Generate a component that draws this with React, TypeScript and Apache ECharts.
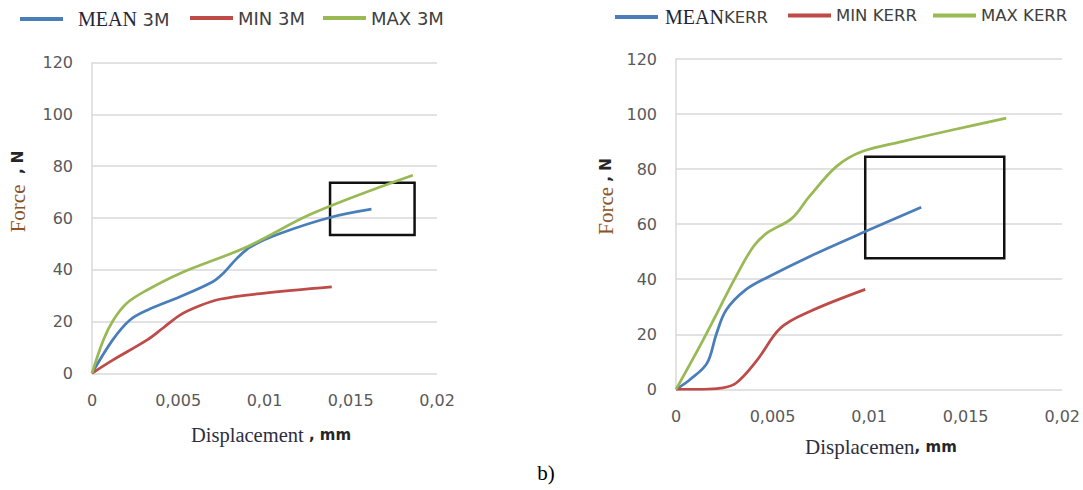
import React, { useEffect, useRef } from "react";
import * as echarts from "echarts";

// ---- data ----
const xTicks = [0, 0.005, 0.01, 0.015, 0.02];
const yTicks = [0, 20, 40, 60, 80, 100, 120];

const dispMean3M = [0, 0.0012, 0.0022, 0.0032, 0.0051, 0.007, 0.0076, 0.0084, 0.0092, 0.0109, 0.0138, 0.0162];
const forceMean3M = [0, 12.9, 20.6, 24.4, 29.6, 35.4, 38.6, 44.4, 48.9, 54.0, 60.2, 63.4];
const dispMin3M = [0, 0.0012, 0.0032, 0.0041, 0.0051, 0.0061, 0.0074, 0.0099, 0.0139];
const forceMin3M = [0, 5.1, 12.9, 17.4, 22.5, 25.7, 28.6, 30.9, 33.4];
const dispMax3M = [0, 0.00066, 0.00124, 0.002, 0.0032, 0.0051, 0.009, 0.0128, 0.0186];
const forceMax3M = [0, 12.9, 20.6, 27.0, 32.2, 38.6, 48.9, 61.8, 76.5];

const dispMeanKerr = [0, 0.0007, 0.0016, 0.0021, 0.0026, 0.0036, 0.0048, 0.0069, 0.0098, 0.0127];
const forceMeanKerr = [0, 3.4, 9.4, 20.3, 28.8, 36.1, 40.9, 48.2, 57.3, 66.1];
const dispMinKerr = [0, 0.0014, 0.0023, 0.0031, 0.0042, 0.0054, 0.0069, 0.0098];
const forceMinKerr = [0, 0, 0.4, 2.2, 10.6, 22.2, 28.2, 36.3];
const dispMaxKerr = [0, 0.0014, 0.0031, 0.004, 0.0047, 0.006, 0.0069, 0.0083, 0.0096, 0.0117, 0.0143, 0.0171];
const forceMaxKerr = [0, 17.9, 40.9, 51.8, 56.7, 62.1, 70.0, 80.9, 86.3, 90.0, 94.2, 98.5];

// highlight boxes: [x1, y1, x2, y2]
const box3M = [0.0138, 53.4, 0.0187, 73.6];
const boxKerr = [0.0098, 47.6, 0.017, 84.5];

const BLUE = "#4a7ebb";
const RED = "#be4b48";
const GREEN = "#98b954";
const SANS = "DejaVu Sans";
const SERIF = "Liberation Serif";

const zip = (xs: number[], ys: number[]) => xs.map((x, i) => [x, ys[i]]);

export default function App() {
  const ref = useRef<HTMLDivElement>(null);

  useEffect(() => {
    if (!ref.current) return;
    const chart = echarts.init(ref.current, undefined, { renderer: "svg" });

    const axisX = (gridIndex: number) => ({
      type: "value",
      gridIndex,
      min: xTicks[0],
      max: xTicks[xTicks.length - 1],
      interval: xTicks[1] - xTicks[0],
      axisLine: { show: false },
      axisTick: { show: false },
      splitLine: { show: false },
      axisLabel: {
        margin: 19,
        fontFamily: SANS,
        fontSize: 16,
        color: "#595959",
        formatter: (v: number) => String(v).replace(".", ","),
      },
    });
    const axisY = (gridIndex: number) => ({
      type: "value",
      gridIndex,
      min: yTicks[0],
      max: yTicks[yTicks.length - 1],
      interval: yTicks[1] - yTicks[0],
      axisLine: { show: true, lineStyle: { color: "#d9d9d9", width: 1.5 } },
      axisTick: { show: false },
      splitLine: { show: true, lineStyle: { color: "#d9d9d9", width: 1.5 } },
      axisLabel: { margin: 19, fontFamily: SANS, fontSize: 16, color: "#595959" },
    });

    const line = (name: string, color: string, xs: number[], ys: number[], idx: number, box?: number[]) => ({
      name,
      type: "line",
      xAxisIndex: idx,
      yAxisIndex: idx,
      data: zip(xs, ys),
      color,
      smooth: 0.35,
      symbol: "none",
      lineStyle: { color, width: 2.75 },
      itemStyle: { color },
      markArea: box
        ? {
            silent: true,
            itemStyle: { color: "rgba(0,0,0,0)", borderColor: "#111", borderWidth: 2.5 },
            data: [[{ coord: [box[0], box[1]] }, { coord: [box[2], box[3]] }]],
          }
        : undefined,
    });

    const legend = (name: string, left: number, top: number, text: string, rich: any) => ({
      data: [name],
      left,
      top,
      padding: 0,
      icon: "rect",
      itemWidth: 43,
      itemHeight: 4,
      selectedMode: false,
      formatter: () => text,
      textStyle: { rich },
    });

    const richL = {
      s: { fontFamily: SERIF, fontSize: 20, color: "#22223a", lineHeight: 20, padding: [0, 0, 0, 10] },
      t: { fontFamily: SANS, fontSize: 18, color: "#404040", lineHeight: 20 },
    };
    const richR = {
      s: { fontFamily: SERIF, fontSize: 20, color: "#22223a", lineHeight: 20, padding: [0, 0, 0, 2] },
      t: { fontFamily: SANS, fontSize: 16.5, color: "#404040", lineHeight: 20 },
    };

    const titleRich = (serifSize: number, color: string) => ({
      a: { fontFamily: SERIF, fontSize: serifSize, fill: color, color },
      b: { fontFamily: SANS, fontSize: 15, fontWeight: "bold", fill: "#262626", color: "#262626" },
    });

    chart.setOption({
      animation: false,
      backgroundColor: "#ffffff",
      grid: [
        { left: 92, top: 62.7, width: 345, height: 310.6 },
        { left: 676, top: 59, width: 389, height: 330.3 },
      ],
      xAxis: [axisX(0), axisX(1)],
      yAxis: [axisY(0), axisY(1)],
      legend: [
        legend("MEAN 3M", 20, 9, "{s|MEAN}{t| 3M}", richL),
        legend("MIN 3M", 190, 9, "{t|MIN 3M}", richL),
        legend("MAX 3M", 323, 9, "{t|MAX 3M}", richL),
        legend("MEAN KERR", 615, 7, "{s|MEAN}{t|KERR}", richR),
        legend("MIN KERR", 788, 7, "{t|MIN KERR}", richR),
        legend("MAX KERR", 933, 7, "{t|MAX KERR}", richR),
      ],
      series: [
        line("MEAN 3M", BLUE, dispMean3M, forceMean3M, 0, box3M),
        line("MIN 3M", RED, dispMin3M, forceMin3M, 0),
        line("MAX 3M", GREEN, dispMax3M, forceMax3M, 0),
        line("MEAN KERR", BLUE, dispMeanKerr, forceMeanKerr, 1, boxKerr),
        line("MIN KERR", RED, dispMinKerr, forceMinKerr, 1),
        line("MAX KERR", GREEN, dispMaxKerr, forceMaxKerr, 1),
      ],
      graphic: [
        {
          type: "text",
          left: 191,
          top: 424,
          style: { text: "{a|Displacement}{b| , mm}", rich: titleRich(20.5, "#2e2e3e") },
        },
        {
          type: "text",
          left: 805,
          top: 436,
          style: { text: "{a|Displacemen}{b|, mm}", rich: titleRich(21, "#2e2e3e") },
        },
        {
          type: "text",
          x: 18,
          y: 191.5,
          rotation: Math.PI / 2,
          style: {
            text: "{a|Force}{b|  , N}",
            rich: titleRich(21, "#8a5424"),
            align: "center",
            verticalAlign: "middle",
          },
        },
        {
          type: "text",
          x: 606,
          y: 196.5,
          rotation: Math.PI / 2,
          style: {
            text: "{a|Force}{b| , N}",
            rich: titleRich(21, "#8a5424"),
            align: "center",
            verticalAlign: "middle",
          },
        },
        {
          type: "text",
          x: 546,
          y: 473,
          style: {
            text: "b)",
            fontFamily: SERIF,
            fontSize: 21,
            fill: "#000",
            align: "center",
            verticalAlign: "middle",
          },
        },
      ],
    });

    return () => chart.dispose();
  }, []);

  return (
    <div
      ref={ref}
      style={{ position: "fixed", left: 0, top: 0, width: 1083, height: 490, background: "#fff" }}
    />
  );
}
